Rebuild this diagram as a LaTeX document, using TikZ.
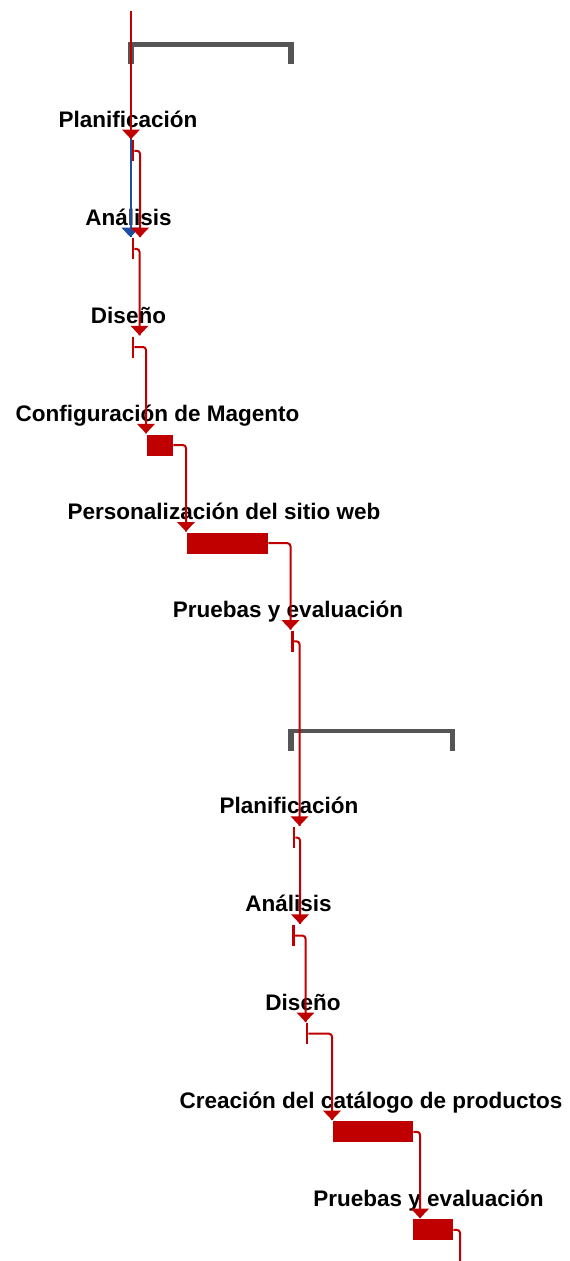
\documentclass[tikz,border=0pt]{standalone}
\usepackage{fontspec}
\setmainfont{Liberation Sans}
\definecolor{gred}{RGB}{192,0,0}
\definecolor{gblue}{RGB}{31,78,160}
\definecolor{ggray}{RGB}{85,85,85}
\newcommand\headat[2]{\fill[#2] (#1) -- ++(-9,-9.5) -- ++(18,0) -- cycle;}
\begin{document}
\begin{tikzpicture}[x=1pt,y=-1pt,
  lbl/.style={anchor=base, inner sep=0pt, font=\fontsize{22.5}{27}\selectfont\bfseries, text=black},
  link/.style={draw=gred, line width=2pt, rounded corners=3pt},
  bluelink/.style={draw=gblue, line width=2pt},
  barbox/.style={fill=gred, inner sep=0pt, anchor=north west, minimum height=21pt},
  tickbox/.style={fill=gred, inner sep=0pt, minimum width=2.2pt, minimum height=21pt, anchor=north},
  bracket/.style={fill=ggray}]
\useasboundingbox (0,0) rectangle (570,1261);
% summary brackets
\fill[bracket] (128,42) rectangle (294,46.5);
\fill[bracket] (128,42) rectangle (134,64);
\fill[bracket] (288,42) rectangle (294,64);
\fill[bracket] (288,728.7) rectangle (455,733.2);
\fill[bracket] (288,728.7) rectangle (294,750.5);
\fill[bracket] (449.5,728.7) rectangle (455,750.5);
% labels
\node[lbl] (l1) at (128,127.1) {Planificación};
\node[lbl] (l2) at (128.5,225.2) {Análisis};
\node[lbl] (l3) at (128.5,323.3) {Diseño};
\node[lbl] (l4) at (157.5,421.4) {Configuración de Magento};
\node[lbl] (l5) at (224,519.5) {Personalización del sitio web};
\node[lbl] (l6) at (288,617.6) {Pruebas y evaluación};
\node[lbl] (l7) at (289,813.8) {Planificación};
\node[lbl] (l8) at (288.5,911.9) {Análisis};
\node[lbl] (l9) at (303,1010) {Diseño};
\node[lbl] (l10) at (371,1108.1) {Creación del catálogo de productos};
\node[lbl] (l11) at (428.5,1206.2) {Pruebas y evaluación};
% arrow tips
\coordinate (top) at (131,11);
\coordinate (a1) at (131,139.1);
\coordinate (a2) at (140,237.2);
\coordinate (a2b) at (130.5,237.2);
\coordinate (a3) at (139.5,335.3);
\coordinate (a4) at (146,433.4);
\coordinate (a5) at (186,531.5);
\coordinate (a6) at (290.5,629.6);
\coordinate (a8) at (299.5,825.8);
\coordinate (a9) at (300,923.9);
\coordinate (a10) at (305.5,1022);
\coordinate (a11) at (332,1120.1);
\coordinate (a12) at (420,1218.2);
\coordinate (bottom) at (460,1262);
% tasks
\node[tickbox] (t1) at (133,140.1) {};
\node[tickbox] (t2) at (133,238.2) {};
\node[tickbox] (t3) at (133,336.3) {};
\node[barbox, minimum width=26pt] (b4) at (147,434.4) {};
\node[barbox, minimum width=81pt] (b5) at (187,532.5) {};
\node[tickbox] (t6) at (292.5,630.6) {};
\node[tickbox] (t8) at (294,826.8) {};
\node[tickbox] (t9) at (293.5,924.9) {};
\node[tickbox] (t10) at (307,1023) {};
\node[barbox, minimum width=80pt] (b11) at (333,1121.1) {};
\node[barbox, minimum width=40pt] (b12) at (413,1219.2) {};
% blue link
\draw[bluelink] (a2b |- a1) -- (a2b);
\headat{a2b}{gblue}
% red links
\draw[link] (top) -- (a1);
\draw[link] (t1) -| (a2);
\draw[link] (t2) -| (a3);
\draw[link] (t3) -| (a4);
\draw[link] (b4.east) -| (a5);
\draw[link] (b5.east) -| (a6);
\draw[link] (t6) -| (a8);
\draw[link] (t8) -| (a9);
\draw[link] (t9) -| (a10);
\draw[link] (t10) -| (a11);
\draw[link] (b11.east) -| (a12);
\draw[link] (b12.east) -| (bottom);
\headat{a1}{gred}
\headat{a2}{gred}
\headat{a3}{gred}
\headat{a4}{gred}
\headat{a5}{gred}
\headat{a6}{gred}
\headat{a8}{gred}
\headat{a9}{gred}
\headat{a10}{gred}
\headat{a11}{gred}
\headat{a12}{gred}
\end{tikzpicture}
\end{document}
